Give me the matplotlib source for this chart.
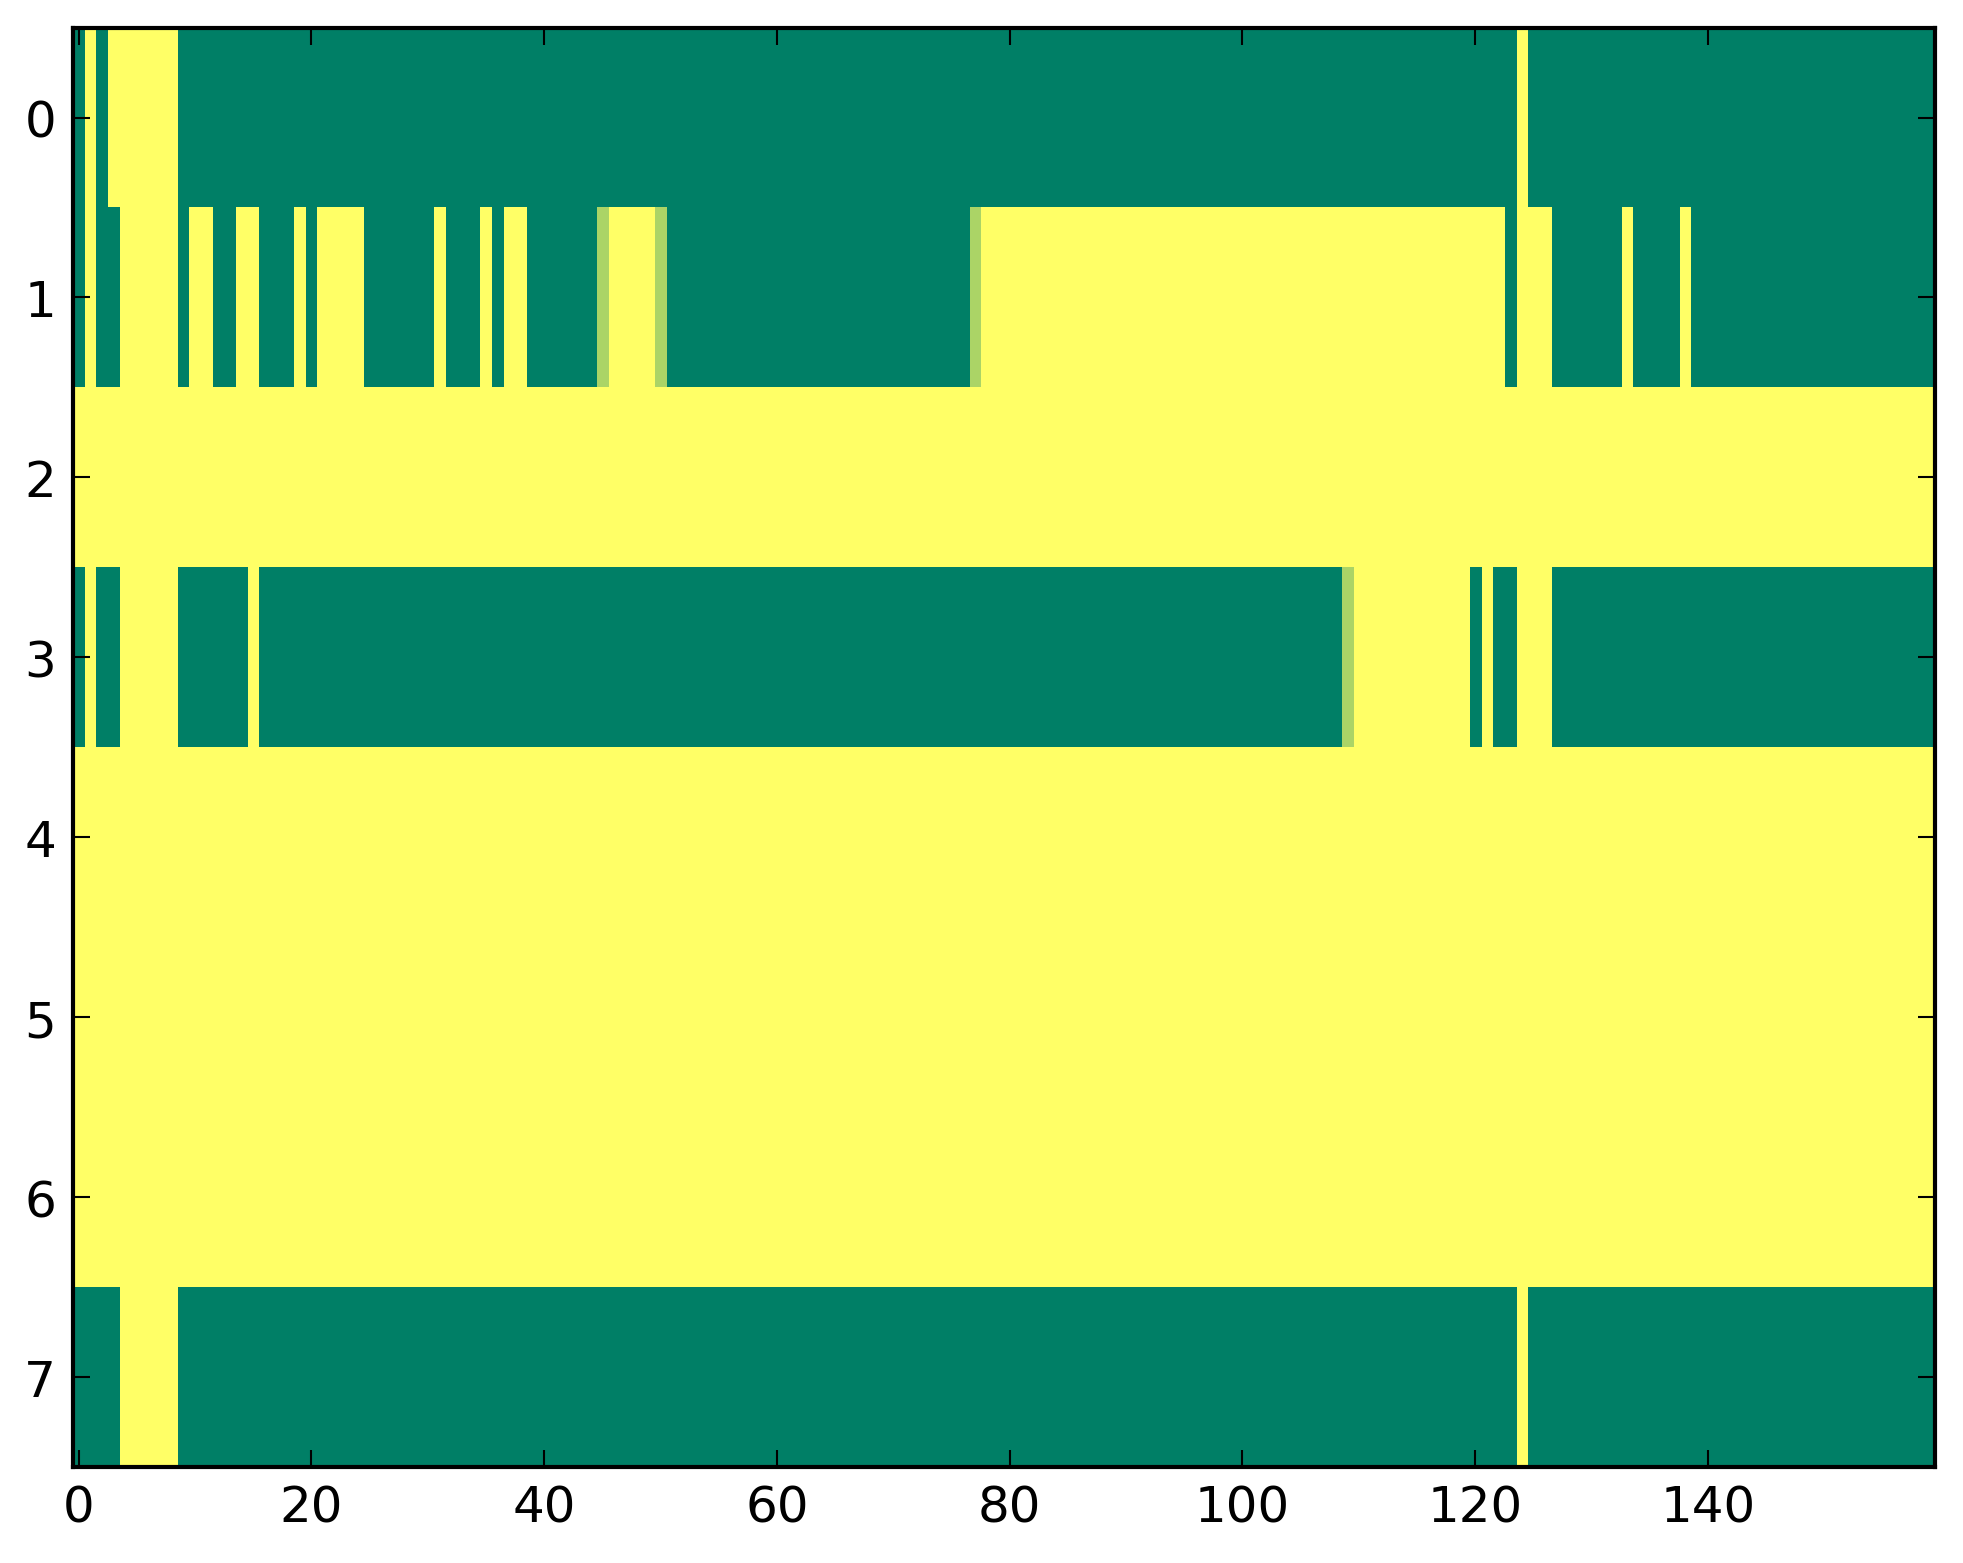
import numpy as np
import matplotlib
matplotlib.use("Agg")
import matplotlib.pyplot as plt

n_rows = 8
n_cols = 160

# yellow (value 1) columns per row; everything else is 0
ones_row0 = [1, 3, 4, 5, 6, 7, 8, 124]
ones_row1 = ([1, 4, 5, 6, 7, 8, 10, 11, 14, 15, 19, 21, 22, 23, 24, 31, 35, 37, 38,
              46, 47, 48, 49] + list(range(78, 123)) + [124, 125, 126, 133, 138])
ones_row3 = [1, 4, 5, 6, 7, 8, 15] + list(range(110, 120)) + [121, 124, 125, 126]
ones_row7 = [4, 5, 6, 7, 8, 124]
full_rows = [2, 4, 5, 6]

# cells with an in-between value (light green)
partial_row1 = [45, 50, 77]
partial_row3 = [109]
partial_value = 0.67

data = np.zeros((n_rows, n_cols))
data[0, ones_row0] = 1
data[1, ones_row1] = 1
data[1, partial_row1] = partial_value
data[3, ones_row3] = 1
data[3, partial_row3] = partial_value
data[7, ones_row7] = 1
data[full_rows, :] = 1

plt.rcParams['font.family'] = ['DejaVu Sans']
plt.rcParams['font.size'] = 12

fig = plt.figure(figsize=(1963 / 300, 1564 / 300), dpi=300)
ax = fig.add_axes([0.0371, 0.0614, 0.9486, 0.9203])
ax.imshow(data, cmap='summer', aspect='auto', interpolation='nearest', vmin=0, vmax=1)

ax.set_xticks(np.arange(0, 141, 20))
ax.set_yticks(np.arange(0, 8))
ax.tick_params(direction='in', top=True, right=True, length=4, width=0.5, pad=4)
for s in ax.spines.values():
    s.set_linewidth(1.0)

fig.savefig("out.png", dpi=300)
